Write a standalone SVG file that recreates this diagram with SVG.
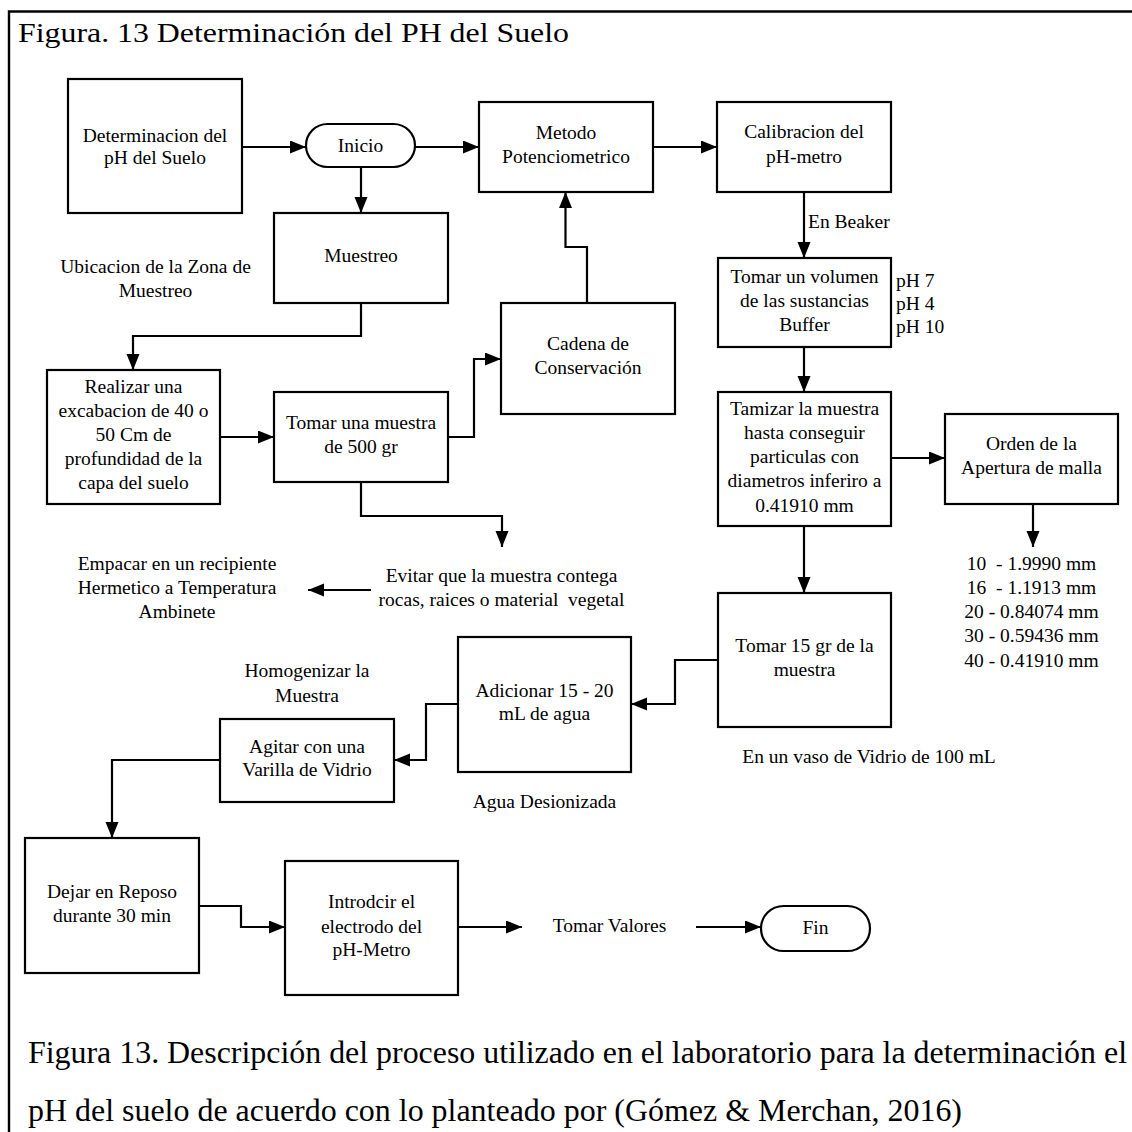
<svg xmlns="http://www.w3.org/2000/svg" width="1132" height="1132" viewBox="0 0 1132 1132">
<style>
text{font-family:"Liberation Serif","Times New Roman",serif;fill:#000}
.t{font-size:19.5px;text-anchor:middle}
.l{font-size:19.5px;text-anchor:start}
.box{fill:#fff;stroke:#000;stroke-width:2.2}
.c{fill:none;stroke:#000;stroke-width:2.2;marker-end:url(#ah)}
</style>
<defs>
<marker id="ah" markerUnits="userSpaceOnUse" markerWidth="17" markerHeight="14" refX="16" refY="6.5" orient="auto">
<path d="M0,0 L16,6.5 L0,13 z" fill="#000"/>
</marker>
</defs>
<rect width="1132" height="1132" fill="#fff"/>
<path d="M1132,11.5 H9 V1132" fill="none" stroke="#000" stroke-width="2.4"/>
<text x="18" y="42" font-size="27" textLength="551" lengthAdjust="spacingAndGlyphs">Figura. 13 Determinación del PH del Suelo</text>

<g id="connectors">
<path class="c" d="M242,147 H306"/>
<path class="c" d="M415,147 H479"/>
<path class="c" d="M653,147 H717"/>
<path class="c" d="M361,167 V213"/>
<path class="c" d="M804,192 V258"/>
<path class="c" d="M361,303 V336 H133 V370"/>
<path class="c" d="M220,437 H274"/>
<path class="c" d="M448,437 H474 V359 H501"/>
<path class="c" d="M587,303 V247 H565.5 V192"/>
<path class="c" d="M361,482 V516 H502 V547"/>
<path class="c" d="M371,590 H308"/>
<path class="c" d="M804,347 V392"/>
<path class="c" d="M891,458 H945"/>
<path class="c" d="M1033,504 V547"/>
<path class="c" d="M804,526 V593"/>
<path class="c" d="M718,660 H675 V704 H631"/>
<path class="c" d="M458,704 H426 V760 H394"/>
<path class="c" d="M220,760 H112 V838"/>
<path class="c" d="M199,906 H241 V927 H285"/>
<path class="c" d="M458,927 H522"/>
<path class="c" d="M696,927 H761"/>
</g>

<g id="n-determinacion"><rect class="box" x="68" y="79" width="174" height="134"/>
<text class="t" x="155" y="142">Determinacion del</text><text class="t" x="155" y="164">pH del Suelo</text></g>
<g id="n-inicio"><rect class="box" x="306" y="124" width="109" height="43" rx="21.5"/>
<text class="t" x="360.5" y="152">Inicio</text></g>
<g id="n-metodo"><rect class="box" x="479" y="102" width="174" height="90"/>
<text class="t" x="566" y="139">Metodo</text><text class="t" x="566" y="163">Potenciometrico</text></g>
<g id="n-calibracion"><rect class="box" x="717" y="102" width="174" height="90"/>
<text class="t" x="804" y="138">Calibracion del</text><text class="t" x="804" y="163">pH-metro</text></g>
<g id="n-muestreo"><rect class="box" x="274" y="213" width="174" height="90"/>
<text class="t" x="361" y="262">Muestreo</text></g>
<g id="n-realizar"><rect class="box" x="47" y="370" width="173" height="134"/>
<text class="t" x="133.5" y="393">Realizar una</text><text class="t" x="133.5" y="417">excabacion de 40 o</text><text class="t" x="133.5" y="441">50 Cm de</text><text class="t" x="133.5" y="465">profundidad de la</text><text class="t" x="133.5" y="489">capa del suelo</text></g>
<g id="n-tomar-muestra"><rect class="box" x="274" y="392" width="174" height="90"/>
<text class="t" x="361" y="429">Tomar una muestra</text><text class="t" x="361" y="453">de 500 gr</text></g>
<g id="n-cadena"><rect class="box" x="501" y="303" width="174" height="111"/>
<text class="t" x="588" y="350">Cadena de</text><text class="t" x="588" y="374">Conservación</text></g>
<g id="n-tomar-volumen"><rect class="box" x="718" y="258" width="173" height="89"/>
<text class="t" x="804.5" y="283">Tomar un volumen</text><text class="t" x="804.5" y="307">de las sustancias</text><text class="t" x="804.5" y="331">Buffer</text></g>
<g id="n-tamizar"><rect class="box" x="718" y="392" width="173" height="134"/>
<text class="t" x="804.5" y="415">Tamizar la muestra</text><text class="t" x="804.5" y="439">hasta conseguir</text><text class="t" x="804.5" y="463">particulas con</text><text class="t" x="804.5" y="487">diametros inferiro a</text><text class="t" x="804.5" y="512">0.41910 mm</text></g>
<g id="n-orden"><rect class="box" x="945" y="414" width="173" height="90"/>
<text class="t" x="1031.5" y="450">Orden de la</text><text class="t" x="1031.5" y="474">Apertura de malla</text></g>
<g id="n-tomar15"><rect class="box" x="718" y="593" width="173" height="134"/>
<text class="t" x="804.5" y="652">Tomar 15 gr de la</text><text class="t" x="804.5" y="676">muestra</text></g>
<g id="n-adicionar"><rect class="box" x="458" y="637" width="173" height="135"/>
<text class="t" x="544.5" y="697">Adicionar 15 - 20</text><text class="t" x="544.5" y="720">mL de agua</text></g>
<g id="n-agitar"><rect class="box" x="220" y="719" width="174" height="83"/>
<text class="t" x="307" y="753">Agitar con una</text><text class="t" x="307" y="776">Varilla de Vidrio</text></g>
<g id="n-dejar"><rect class="box" x="25" y="838" width="174" height="135"/>
<text class="t" x="112" y="898">Dejar en Reposo</text><text class="t" x="112" y="922">durante 30 min</text></g>
<g id="n-introducir"><rect class="box" x="285" y="861" width="173" height="134"/>
<text class="t" x="371.5" y="908">Introdcir el</text><text class="t" x="371.5" y="933">electrodo del</text><text class="t" x="371.5" y="956">pH-Metro</text></g>
<g id="n-tomar-valores"><text class="t" x="609.5" y="932">Tomar Valores</text></g>
<g id="n-fin"><rect class="box" x="761" y="906" width="109" height="45" rx="22.5"/>
<text class="t" x="815.5" y="934">Fin</text></g>

<g id="labels">
<text class="t" x="155.5" y="273">Ubicacion de la Zona de</text><text class="t" x="155.5" y="297">Muestreo</text>
<text class="l" x="808" y="228">En Beaker</text>
<text class="l" x="896" y="287">pH 7</text><text class="l" x="896" y="310">pH 4</text><text class="l" x="896" y="333">pH 10</text>
<text class="t" x="177" y="570">Empacar en un recipiente</text><text class="t" x="177" y="594">Hermetico a Temperatura</text><text class="t" x="177" y="618">Ambinete</text>
<text class="t" x="501.5" y="582">Evitar que la muestra contega</text><text class="t" x="501.5" y="606" xml:space="preserve">rocas, raices o material  vegetal</text>
<text class="t" x="307" y="677">Homogenizar la</text><text class="t" x="307" y="702">Muestra</text>
<text class="t" x="544.5" y="808">Agua Desionizada</text>
<text class="t" x="869" y="763">En un vaso de Vidrio de 100 mL</text>
<text class="t" x="1031.5" y="570" xml:space="preserve">10  - 1.9990 mm</text>
<text class="t" x="1031.5" y="594" xml:space="preserve">16  - 1.1913 mm</text>
<text class="t" x="1031.5" y="618">20 - 0.84074 mm</text>
<text class="t" x="1031.5" y="642">30 - 0.59436 mm</text>
<text class="t" x="1031.5" y="667">40 - 0.41910 mm</text>
</g>

<text x="28" y="1063" font-size="32" textLength="1099" lengthAdjust="spacingAndGlyphs">Figura 13. Descripción del proceso utilizado en el laboratorio para la determinación el</text>
<text x="28" y="1121" font-size="32" textLength="934" lengthAdjust="spacingAndGlyphs">pH del suelo de acuerdo con lo planteado por (Gómez &amp; Merchan, 2016)</text>
</svg>
